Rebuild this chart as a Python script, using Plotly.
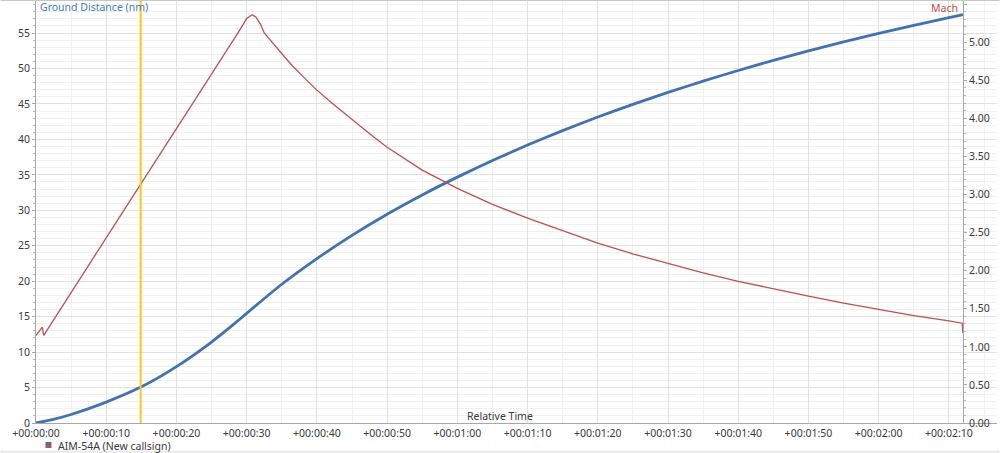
import plotly.graph_objects as go

# ---- data ----
dist_t = [0, 2, 5, 10, 15, 20, 25, 28, 30, 31, 35, 40, 45, 50, 55, 60, 65, 70, 75,
          80, 85, 90, 95, 100, 105, 110, 115, 120, 125, 130, 132]
dist_nm = [0, 0.4, 1.2, 2.95, 5.1, 7.96, 11.42, 13.8, 15.46, 16.3, 19.57, 23.19, 26.47,
           29.45, 32.17, 34.68, 37.02, 39.2, 41.24, 43.15, 44.94, 46.63, 48.22, 49.72,
           51.14, 52.48, 53.75, 54.95, 56.09, 57.17, 57.59]

mach_t = [0, 0.9, 1.1, 4, 9, 15, 22, 26, 29.1, 30.0, 30.8, 31.3, 32.0, 32.5, 33.8, 36.2,
          38, 40, 42, 45, 48, 50, 55, 60, 65, 70, 75, 80, 85, 90, 95, 100, 105, 110,
          115, 120, 125, 130, 131.9, 132]
mach = [1.15, 1.26, 1.15, 1.57, 2.28, 3.15, 4.15, 4.72, 5.17, 5.31, 5.36, 5.33, 5.23,
        5.12, 4.98, 4.72, 4.55, 4.37, 4.21, 3.98, 3.76, 3.62, 3.32, 3.08, 2.87, 2.69,
        2.52, 2.36, 2.22, 2.09, 1.97, 1.86, 1.76, 1.665, 1.575, 1.49, 1.41, 1.34, 1.31,
        1.18]

x_tickvals = [0, 10, 20, 30, 40, 50, 60, 70, 80, 90, 100, 110, 120, 130]
x_ticktext = ["+00:00:00", "+00:00:10", "+00:00:20", "+00:00:30", "+00:00:40",
              "+00:00:50", "+00:01:00", "+00:01:10", "+00:01:20", "+00:01:30",
              "+00:01:40", "+00:01:50", "+00:02:00", "+00:02:10"]
cursor_t = 14.9
series_name = "AIM-54A (New callsign)"

BLUE = "#4272b0"
RED = "#bf504d"
FONT = "Noto Sans"
TXT = "#3a3a3a"

W, H = 1000, 453
ml, mr, mt, mb = 35.5, 2.5, 1, 30
pw = W - ml - mr
ph = H - mt - mb
XMAX = 136.85
Y2POS = (132.0 / XMAX)


def px_x(p):
    return (p - ml) / pw


def px_y(p):
    return (H - mb - p) / ph


fig = go.Figure()
fig.add_trace(go.Scatter(x=dist_t, y=dist_nm, mode="lines", name=series_name,
                         line=dict(color=BLUE, width=2.8, shape="spline",
                                   smoothing=0.6),
                         yaxis="y", showlegend=False, hoverinfo="skip"))
fig.add_trace(go.Scatter(x=mach_t, y=mach, mode="lines", name=series_name,
                         line=dict(color=RED, width=1.3), yaxis="y2",
                         showlegend=False, hoverinfo="skip"))

fig.update_layout(
    width=W, height=H,
    margin=dict(l=ml, r=mr, t=mt, b=mb, pad=0),
    paper_bgcolor="white", plot_bgcolor="white",
    font=dict(family=FONT, size=10.5, color=TXT),
    xaxis=dict(range=[0, XMAX], tickmode="array", tickvals=x_tickvals,
               ticktext=x_ticktext, showgrid=True, gridcolor="#e2e2e2", gridwidth=1,
               zeroline=False, showline=True, linecolor="#a8a8a8", linewidth=1,
               ticks="", ticklabelstandoff=0,
               minor=dict(tickmode="linear", tick0=0, dtick=5, showgrid=True,
                          gridcolor="#f1f1f1", ticks=""),
               tickfont=dict(size=10.5, color=TXT), automargin=False),
    yaxis=dict(range=[0, 59.52], tickmode="linear", tick0=0, dtick=5,
               showgrid=True, gridcolor="#e2e2e2", zeroline=False,
               showline=True, linecolor="#a8a8a8", linewidth=1,
               ticks="outside", ticklen=3, tickcolor="#a8a8a8",
               minor=dict(tickmode="linear", tick0=0, dtick=1, showgrid=True,
                          gridcolor="#f1f1f1", ticks="outside", ticklen=2,
                          tickcolor="#b8b8b8"),
               tickfont=dict(size=10.5, color=TXT), automargin=False),
    yaxis2=dict(range=[0, 5.54], overlaying="y", side="right", anchor="free",
                position=Y2POS, tickmode="linear", tick0=0, dtick=0.5,
                tickformat=".2f", showgrid=False, zeroline=False,
                showline=True, linecolor="#a8a8a8", linewidth=1,
                ticks="outside", ticklen=3, tickcolor="#a8a8a8",
                minor=dict(tickmode="linear", tick0=0, dtick=0.1, ticks="outside",
                           ticklen=2, tickcolor="#b8b8b8"),
                tickfont=dict(size=10.5, color=TXT), automargin=False),
)

# cursor line
fig.add_shape(type="line", xref="x", yref="paper", x0=cursor_t, x1=cursor_t,
              y0=0, y1=1, line=dict(color="#f8cb1c", width=2))

# top and bottom frame lines
fig.add_shape(type="line", xref="paper", yref="paper", x0=px_x(0), x1=px_x(W),
              y0=px_y(0.5), y1=px_y(0.5), line=dict(color="#c8c8c8", width=1))
fig.add_shape(type="rect", xref="paper", yref="paper", x0=px_x(0), x1=px_x(W),
              y0=px_y(453), y1=px_y(450.5), line=dict(width=0),
              fillcolor="#ececec")

# axis titles
fig.add_annotation(text="Ground Distance (nm)", xref="paper", yref="paper",
                   x=px_x(38), y=px_y(7), xanchor="left", yanchor="middle",
                   showarrow=False, font=dict(size=10.5, color="#4a7bbd", family=FONT))
fig.add_annotation(text="Mach", xref="paper", yref="paper",
                   x=px_x(960), y=px_y(8), xanchor="right", yanchor="middle",
                   showarrow=False, font=dict(size=10.5, color="#c0504d", family=FONT))
fig.add_annotation(text="Relative Time", xref="paper", yref="paper",
                   x=px_x(500), y=px_y(416), xanchor="center", yanchor="middle",
                   showarrow=False, font=dict(size=10.5, color=TXT, family=FONT))

# legend
fig.add_shape(type="rect", xref="paper", yref="paper", x0=px_x(45), x1=px_x(51),
              y0=px_y(445), y1=px_y(442), line=dict(width=0), fillcolor=BLUE)
fig.add_shape(type="rect", xref="paper", yref="paper", x0=px_x(45), x1=px_x(51),
              y0=px_y(448), y1=px_y(445), line=dict(width=0), fillcolor=RED)
fig.add_annotation(text=series_name, xref="paper", yref="paper",
                   x=px_x(56), y=px_y(445.5), xanchor="left", yanchor="middle",
                   showarrow=False, font=dict(size=10.5, color=TXT, family=FONT))

fig.write_html("out.html", config={"displayModeBar": False, "staticPlot": True},
               post_script="document.body.style.margin='0';document.body.style.overflow='hidden';")
